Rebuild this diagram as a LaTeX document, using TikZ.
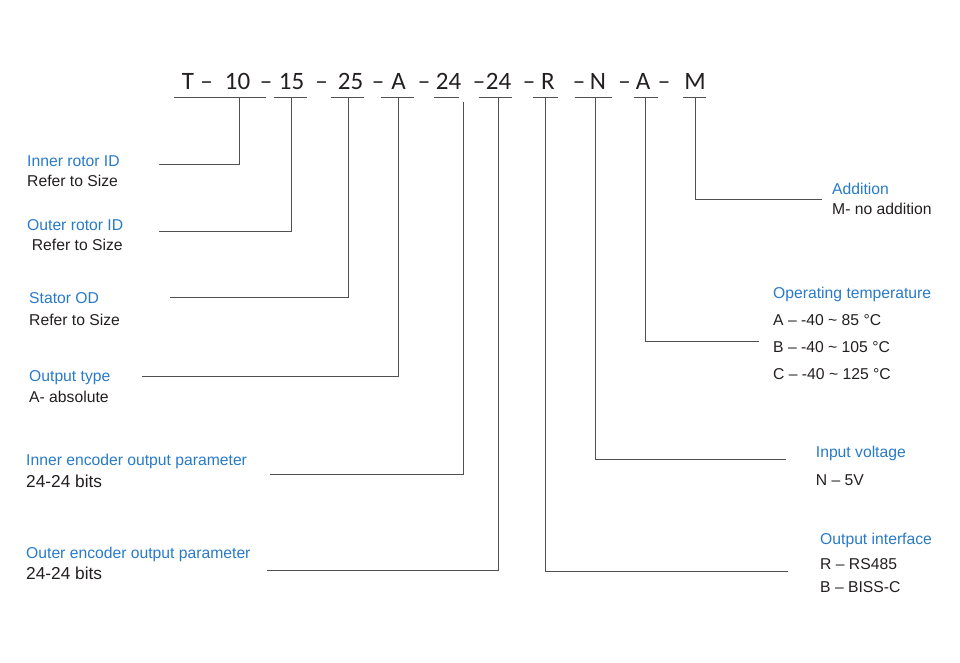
\documentclass[tikz,border=0pt]{standalone}
\usepackage{fontspec}
\setmainfont{Liberation Sans}
\newfontfamily\codefont{Carlito}
\definecolor{lblblue}{RGB}{40,122,200}
\definecolor{txtblack}{RGB}{35,31,32}
\definecolor{lngray}{RGB}{80,80,80}
\begin{document}
\begin{tikzpicture}[x=1pt,y=-1pt,
  ln/.style={draw=lngray,line width=1pt},
  code/.style={inner sep=0pt,anchor=base,text=txtblack,font=\codefont\fontsize{25}{28}\selectfont},
  ttl/.style={inner sep=0pt,anchor=base west,text=lblblue,font=\fontsize{15.7}{18}\selectfont},
  val/.style={inner sep=0pt,anchor=base west,text=txtblack,font=\fontsize{15.7}{18}\selectfont},
  bigval/.style={inner sep=0pt,anchor=base west,text=txtblack,font=\fontsize{17.3}{20}\selectfont}]
\useasboundingbox (0,0) rectangle (960,663);
% code string
\node[code] (cT) at (188,90) {T};
\node[code] (d1) at (206.5,90) {–};
\node[code] (c10) at (237.5,90) {10};
\node[code] (d2) at (266,90) {–};
\node[code] (c15) at (291.5,90) {15};
\node[code] (d3) at (321.5,90) {–};
\node[code] (c25) at (350.5,90) {25};
\node[code] (d4) at (378,90) {–};
\node[code] (cA) at (398.5,90) {A};
\node[code] (d5) at (424,90) {–};
\node[code] (c24a) at (448.5,90) {24};
\node[code] (d6) at (479,90) {–};
\node[code] (c24b) at (498.5,90) {24};
\node[code] (d7) at (529,90) {–};
\node[code] (cR) at (548,90) {R};
\node[code] (d8) at (579,90) {–};
\node[code] (cN) at (598,90) {N};
\node[code] (d9) at (624.5,90) {–};
\node[code] (cA2) at (643,90) {A};
\node[code] (d10) at (664,90) {–};
\node[code] (cM) at (695,90) {M};
% underlines
\coordinate (u1a) at (173.6,98); \coordinate (u1b) at (265.7,98);
\coordinate (u2a) at (273.6,98); \coordinate (u2b) at (307,98);
\coordinate (u3a) at (330.7,98); \coordinate (u3b) at (364,98);
\coordinate (u4a) at (380.7,98); \coordinate (u4b) at (414,98);
\coordinate (u5a) at (434,98); \coordinate (u5b) at (458.6,98);
\coordinate (u6a) at (479,98); \coordinate (u6b) at (512,98);
\coordinate (u7a) at (532.5,98); \coordinate (u7b) at (557.5,98);
\coordinate (u8a) at (574.6,98); \coordinate (u8b) at (612,98);
\coordinate (u9a) at (633.6,98); \coordinate (u9b) at (657.5,98);
\coordinate (u10a) at (683,98); \coordinate (u10b) at (706,98);
\foreach \i in {1,...,10} {\draw[ln] (u\i a) -- (u\i b);}
% connector start points
\coordinate (v1) at (239.5,98);
\coordinate (v2) at (291,98);
\coordinate (v3) at (348,98);
\coordinate (v4) at (398,98);
\coordinate (v5) at (463,102);
\coordinate (v6) at (498,98);
\coordinate (v7) at (545,98);
\coordinate (v8) at (595.7,98);
\coordinate (v9) at (645.5,98);
\coordinate (v10) at (695,98);
% connector end points
\coordinate (e1) at (159,165);
\coordinate (e2) at (159,231);
\coordinate (e3) at (170,297.7);
\coordinate (e4) at (142,376);
\coordinate (e5) at (270,474.7);
\coordinate (e6) at (267,570.7);
\coordinate (e7) at (788,571);
\coordinate (e8) at (785.7,459.3);
\coordinate (e9) at (759,341.3);
\coordinate (e10) at (821.7,199.3);
\foreach \i in {1,...,10} {\draw[ln] (v\i) |- (e\i);}
% left labels
\node[ttl] (t1) at (27,166.7) {Inner rotor ID};
\node[val] (s1) at (27,186.7) {Refer to Size};
\node[ttl] (t2) at (27,230) {Outer rotor ID};
\node[val] (s2) at (31.7,250.7) {Refer to Size};
\node[ttl] (t3) at (29,303) {Stator OD};
\node[val] (s3) at (29,325) {Refer to Size};
\node[ttl] (t4) at (29,381.7) {Output type};
\node[val] (s4) at (29,402.7) {A- absolute};
\node[ttl] (t5) at (26,465) {Inner encoder output parameter};
\node[bigval] (s5) at (26,487) {24-24 bits};
\node[ttl] (t6) at (26,558.3) {Outer encoder output parameter};
\node[bigval] (s6) at (26,579.3) {24-24 bits};
% right labels
\node[ttl] (t10) at (832,194) {Addition};
\node[val] (s10) at (832,214) {M- no addition};
\node[ttl] (t9) at (773,298.3) {Operating temperature};
\node[val] (s9a) at (773,325.7) {A – -40 \textasciitilde\ 85 °C};
\node[val] (s9b) at (773,352) {B – -40 \textasciitilde\ 105 °C};
\node[val] (s9c) at (773,379) {C – -40 \textasciitilde\ 125 °C};
\node[ttl] (t8) at (815.7,457.3) {Input voltage};
\node[val] (s8) at (815.7,485) {N – 5V};
\node[ttl] (t7) at (820,544.3) {Output interface};
\node[val] (s7a) at (820,569) {R – RS485};
\node[val] (s7b) at (820,592.7) {B – BISS-C};
\end{tikzpicture}
\end{document}
